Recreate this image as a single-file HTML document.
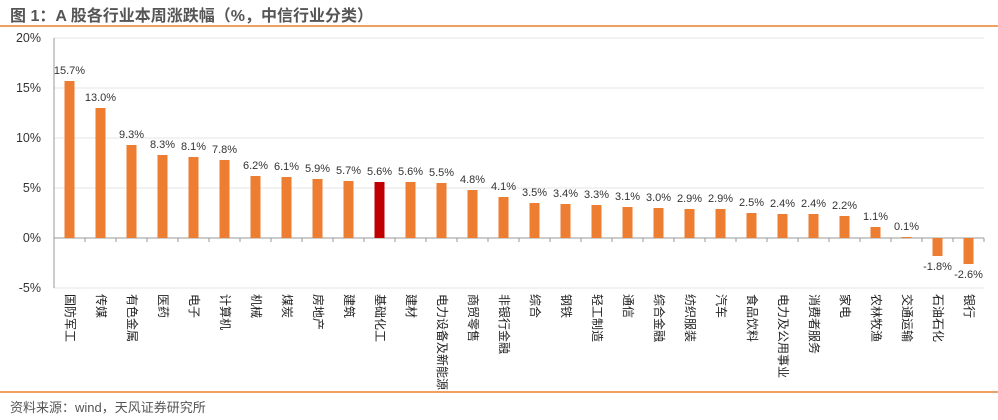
<!DOCTYPE html>
<html><head><meta charset="utf-8"><style>
body{margin:0;background:#fff;width:998px;height:420px;overflow:hidden;position:relative;font-family:"Liberation Sans","Noto Sans CJK SC",sans-serif;}
.t{position:absolute;left:10px;top:2px;font-size:16px;font-weight:bold;color:#555;}
.ln{position:absolute;left:0;width:998px;height:2px;background:#f0a060;}
.src{position:absolute;left:10px;top:397px;font-size:13px;color:#555;}
.cl{position:absolute;top:294px;white-space:nowrap;font-size:12px;line-height:12px;color:#222;transform-origin:0 0;transform:rotate(90deg);}
</style></head><body>
<div class="t">图 1：A 股各行业本周涨跌幅（%，中信行业分类）</div>
<div class="ln" style="top:25px"></div>
<svg id="c" width="998" height="420" style="position:absolute;left:0;top:0"></svg>
<div id="labs"></div>
<div class="ln" style="top:391px"></div>
<div class="src">资料来源：wind，天风证券研究所</div>
<script>
const categories=["国防军工","传媒","有色金属","医药","电子","计算机","机械","煤炭","房地产","建筑","基础化工","建材","电力设备及新能源","商贸零售","非银行金融","综合","钢铁","轻工制造","通信","综合金融","纺织服装","汽车","食品饮料","电力及公用事业","消费者服务","家电","农林牧渔","交通运输","石油石化","银行"];
const values=[15.7,13.0,9.3,8.3,8.1,7.8,6.2,6.1,5.9,5.7,5.6,5.6,5.5,4.8,4.1,3.5,3.4,3.3,3.1,3.0,2.9,2.9,2.5,2.4,2.4,2.2,1.1,0.1,-1.8,-2.6];
const yTicks=[20,15,10,5,0,-5];
const highlight="基础化工";
const NS="http://www.w3.org/2000/svg";
const svg=document.getElementById('c');
const x0=54,bw=31,y=v=>238-v*10,xc=i=>x0+bw*i+bw/2;
function mk(t,a){const e=document.createElementNS(NS,t);for(const k in a)e.setAttribute(k,a[k]);svg.appendChild(e);return e;}
yTicks.forEach(t=>{
 const g=mk('line',{x1:x0,x2:x0+bw*categories.length,y1:y(t),y2:y(t),stroke:t===0?'#999':'#e4e4e4','stroke-width':1});
 
 
 const l=mk('text',{x:41,y:y(t)+4,'text-anchor':'end','font-size':12.5,fill:'#333'});l.textContent=t+'%';
 
 
});
const ax=mk('line',{x1:x0,x2:x0,y1:y(20),y2:y(-5),stroke:'#999'});


const labs=document.getElementById('labs');
categories.forEach((c,i)=>{
 const v=values[i];
 const tk=mk('line',{x1:x0+bw*(i+1),x2:x0+bw*(i+1),y1:238,y2:242,stroke:'#999'});
 
 
 const r=mk('rect',{x:xc(i)-5,y:Math.min(y(v),238),width:10,height:Math.abs(v)*10,fill:c===highlight?'#c00000':'#ed7d31'});
 
 
 const ty=v>=0?y(v)-7:y(v)+14;
 const t=mk('text',{x:xc(i),y:ty,'text-anchor':'middle','font-size':11,fill:'#333'});t.textContent=v.toFixed(1)+'%';
 
 
 const d=document.createElement('div');d.className='cl';d.textContent=c;
 d.style.left=(xc(i)+6)+'px';
 
 
 labs.appendChild(d);
});
</script>
</body></html>
